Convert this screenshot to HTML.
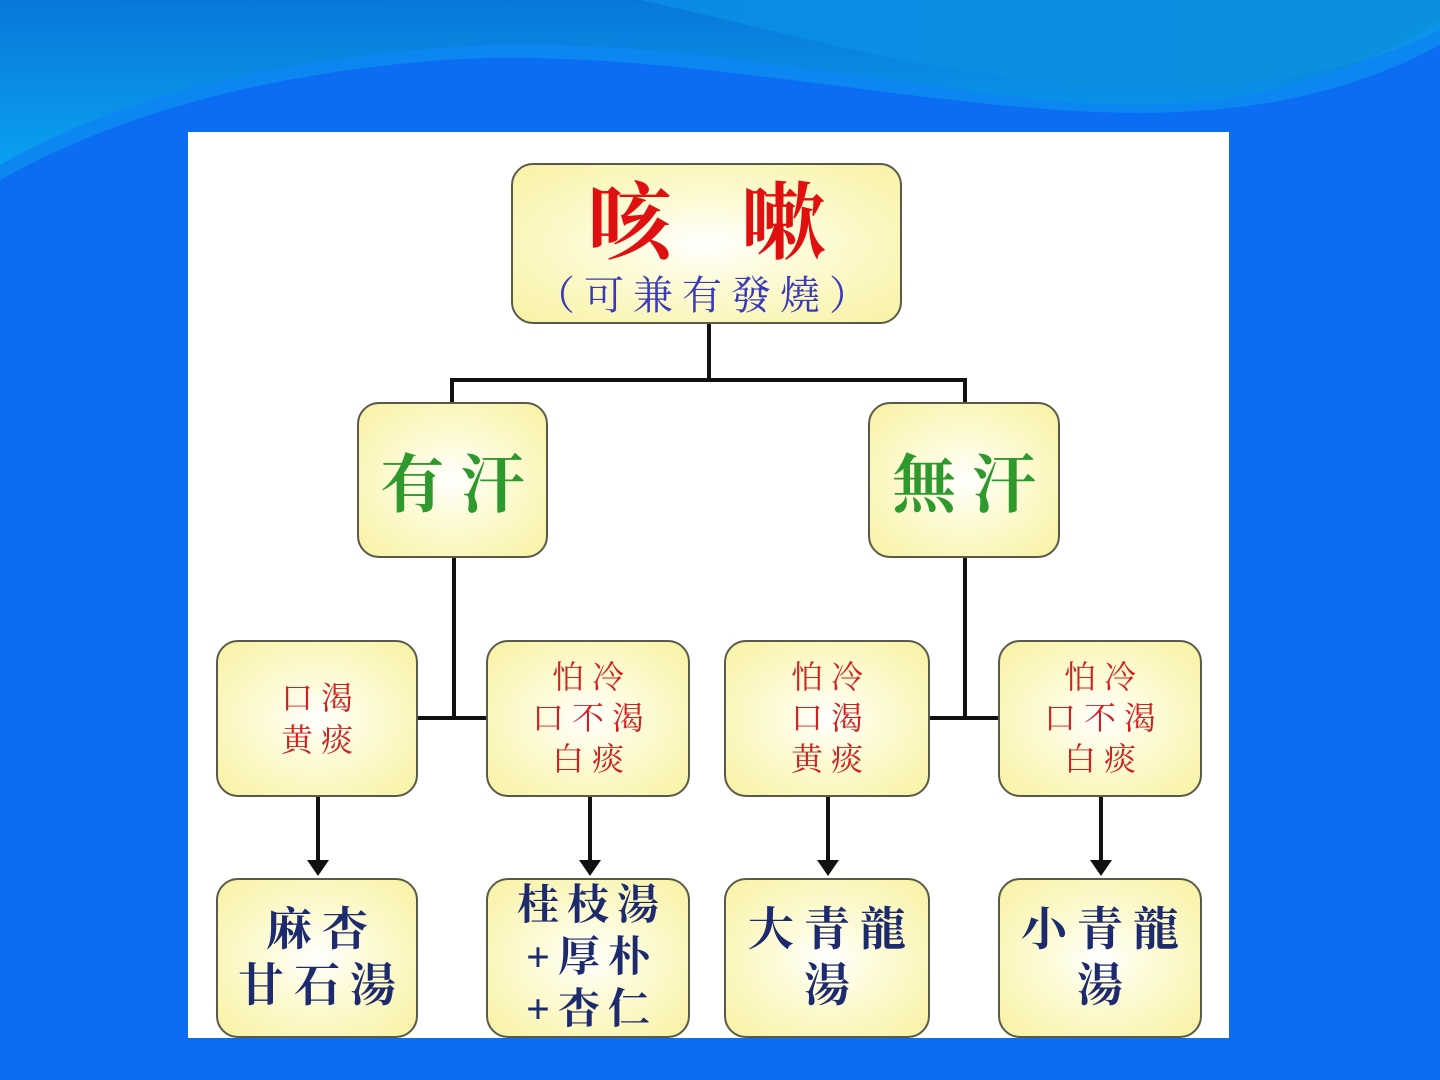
<!DOCTYPE html>
<html><head><meta charset="utf-8"><style>
html,body{margin:0;padding:0;width:1440px;height:1080px;overflow:hidden;background:#0b6df2;}
.bg{position:absolute;left:0;top:0;}
.panel{position:absolute;left:188px;top:132px;width:1041px;height:906px;background:#fff;overflow:hidden;}
.box{position:absolute;box-sizing:border-box;border:2px solid #5a5a4a;border-radius:22px;
background:radial-gradient(ellipse at center,#ffffff 0%,#fdfbd8 35%,#f8f2a4 100%);
display:flex;flex-direction:column;align-items:center;justify-content:center;text-align:center;
font-family:"Liberation Serif","Noto Serif CJK SC","Noto Sans CJK TC",serif;font-weight:bold;}
.l{position:absolute;background:#111;}
.ar{position:absolute;width:0;height:0;border-left:11px solid transparent;border-right:11px solid transparent;border-top:16px solid #111;}
</style></head><body>
<svg class="bg" width="1440" height="1080" viewBox="0 0 1440 1080">
<defs>
<linearGradient id="g1" x1="0" y1="0" x2="0" y2="1"><stop offset="0" stop-color="#0878d8"/><stop offset="1" stop-color="#0aa0f0"/></linearGradient>
<linearGradient id="g2" x1="0" y1="0" x2="1" y2="0"><stop offset="0" stop-color="#0a8ce6"/><stop offset="1" stop-color="#0a90dc"/></linearGradient>
</defs>
<rect width="1440" height="1080" fill="#0b6df2"/>
<path d="M0 0 H1440 V20 C1300 110 1150 115 1000 95 C800 70 600 30 420 50 C200 70 80 120 0 165 Z" fill="url(#g1)"/>
<path d="M640 0 H1440 V30 C1360 70 1250 95 1080 85 C900 70 760 25 640 0 Z" fill="url(#g2)"/>
<path d="M0 165 C80 120 200 70 420 50 C600 30 800 70 1000 95 C1150 115 1300 110 1440 20 V45 C1300 120 1150 120 1000 105 C800 85 600 45 420 62 C220 80 90 130 0 180 Z" fill="#0d9af0" opacity="0.6"/>
</svg>
<div class="panel"></div>

<div class="l" style="left:707px;top:324px;width:4px;height:58px"></div>
<div class="l" style="left:450px;top:378px;width:517px;height:4px"></div>
<div class="l" style="left:450px;top:378px;width:4px;height:26px"></div>
<div class="l" style="left:963px;top:378px;width:4px;height:26px"></div>
<div class="l" style="left:452px;top:558px;width:4px;height:162px"></div>
<div class="l" style="left:418px;top:716px;width:70px;height:4px"></div>
<div class="l" style="left:963px;top:558px;width:4px;height:162px"></div>
<div class="l" style="left:930px;top:716px;width:70px;height:4px"></div>
<div class="l" style="left:316px;top:797px;width:4px;height:66px"></div><div class="ar" style="left:307px;top:860px"></div>
<div class="l" style="left:588px;top:797px;width:4px;height:66px"></div><div class="ar" style="left:579px;top:860px"></div>
<div class="l" style="left:826px;top:797px;width:4px;height:66px"></div><div class="ar" style="left:817px;top:860px"></div>
<div class="l" style="left:1099px;top:797px;width:4px;height:66px"></div><div class="ar" style="left:1090px;top:860px"></div>

<div class="box" style="left:511px;top:163px;width:391px;height:161px;justify-content:flex-start">
<div style="color:#e01010;font-size:84px;line-height:96px;letter-spacing:70px;margin-left:70px;margin-top:12px">咳嗽</div>
<div style="color:#3a3ab8;font-size:40px;line-height:46px;font-weight:normal;letter-spacing:9px">（可兼有發燒）</div></div>
<div class="box" style="left:357px;top:402px;width:191px;height:156px;color:#2e9a2e;font-size:64px;letter-spacing:16px"><span style="margin-left:16px">有汗</span></div>
<div class="box" style="left:868px;top:402px;width:192px;height:156px;color:#2e9a2e;font-size:64px;letter-spacing:16px"><span style="margin-left:16px">無汗</span></div>

<div class="box" style="left:216px;top:640px;width:202px;height:157px;color:#d02020;font-size:32px;line-height:42px;letter-spacing:8px;font-weight:normal"><span style="margin-left:8px">口渴<br>黄痰</span></div>
<div class="box" style="left:486px;top:640px;width:204px;height:157px;color:#d02020;font-size:32px;line-height:41px;letter-spacing:8px;font-weight:normal"><span style="margin-left:8px">怕冷<br>口不渴<br>白痰</span></div>
<div class="box" style="left:724px;top:640px;width:206px;height:157px;color:#d02020;font-size:32px;line-height:41px;letter-spacing:8px;font-weight:normal"><span style="margin-left:8px">怕冷<br>口渴<br>黄痰</span></div>
<div class="box" style="left:998px;top:640px;width:204px;height:157px;color:#d02020;font-size:32px;line-height:41px;letter-spacing:8px;font-weight:normal"><span style="margin-left:8px">怕冷<br>口不渴<br>白痰</span></div>

<div class="box" style="left:216px;top:878px;width:202px;height:160px;color:#1e2a6e;font-size:46px;line-height:56px;letter-spacing:10px"><span style="margin-left:10px">麻杏<br>甘石湯</span></div>
<div class="box" style="left:486px;top:878px;width:204px;height:160px;color:#1e2a6e;font-size:42px;line-height:52px;letter-spacing:8px"><span style="margin-left:8px">桂枝湯<br>+厚朴<br>+杏仁</span></div>
<div class="box" style="left:724px;top:878px;width:206px;height:160px;color:#1e2a6e;font-size:46px;line-height:56px;letter-spacing:10px"><span style="margin-left:10px">大青龍<br>湯</span></div>
<div class="box" style="left:998px;top:878px;width:204px;height:160px;color:#1e2a6e;font-size:46px;line-height:56px;letter-spacing:10px"><span style="margin-left:10px">小青龍<br>湯</span></div>
</body></html>
